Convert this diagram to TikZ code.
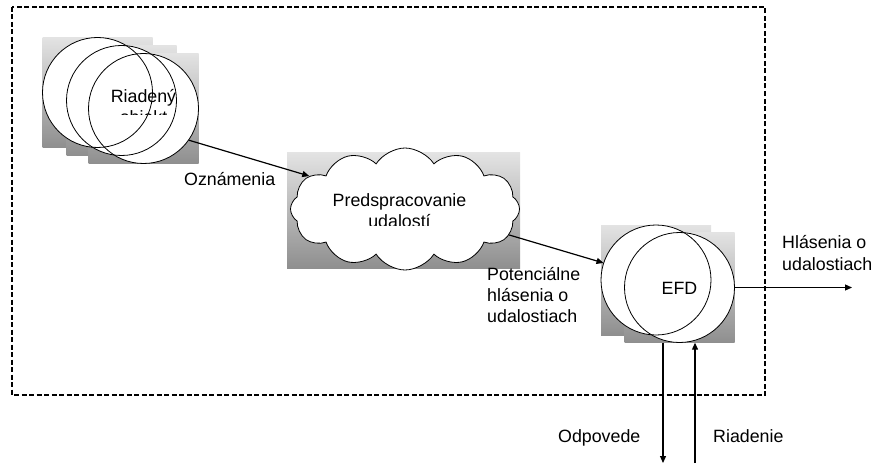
\documentclass[tikz,border=0pt]{standalone}
\usepackage{fontspec}
\setmainfont{Liberation Sans}
\usetikzlibrary{shapes.symbols,arrows.meta}

\definecolor{shadetop}{gray}{0.89}
\definecolor{shadebot}{gray}{0.56}

% multi-line text whose baseline is that of its first line
\newcommand\stacktext[2]{\begin{tabular}[t]{@{}#1@{}}#2\end{tabular}}

\tikzset{
  backsq/.style={rectangle, minimum size=110pt, inner sep=0pt, draw=none,
                 top color=shadetop, bottom color=shadebot},
  whitedisc/.style={circle, minimum size=110pt, inner sep=0pt, fill=white},
  ring/.style={line width=0.8pt},
  flow/.style={line width=1.2pt, -{Triangle[length=7pt,width=6pt]}},
  lbl/.style={inner sep=0pt, anchor=base west},
  frame/.style={line width=1.3pt, dash pattern=on 5pt off 2.5pt},
}

\begin{document}
\begin{tikzpicture}[x=1pt, y=-1pt, font=\fontsize{17.8}{21}\selectfont]
\useasboundingbox (0,0) rectangle (874,465);

% shaded backgrounds
\node[backsq] (s1) at (97.5,92.5) {};
\node[backsq] (s2) at (121.5,100.5) {};
\node[backsq] (s3) at (143.5,108.5) {};
\node[backsq, minimum width=233pt, minimum height=115pt] (sc) at (403.5,210.5) {};
\node[backsq] (sa) at (656,280) {};
\node[backsq] (sb) at (679.5,287.5) {};

% white discs, then all outlines on top
\node[whitedisc] (c1) at (s1) {};
\node[whitedisc] (c2) at (s2) {};
\node[whitedisc] (c3) at (s3) {};
\node[whitedisc] (ea) at (sa) {};
\node[whitedisc] (eb) at (sb) {};
\foreach \c in {c1,c2,c3,ea,eb}
  \draw[ring] (\c.center) circle[radius=55];

% event pre-processing cloud
\node[cloud, cloud puffs=12, cloud puff arc=115, cloud ignores aspect,
      minimum width=229pt, minimum height=122pt, inner sep=0pt,
      draw, ring, fill=white] (cl) at (405,209) {};

% texts cut off by their boxes
\begin{scope}
  \clip (95,80) rectangle (195,115);
  \node[anchor=base, inner sep=0pt] (robj) at (143.5,103)
    {\stacktext{c}{Riadený\\objekt}};
\end{scope}
\begin{scope}
  \clip (320,180) rectangle (480,225);
  \node[anchor=base, inner sep=0pt] (ptxt) at (399.5,206)
    {\stacktext{c}{Predspracovanie\\udalostí}};
\end{scope}
\node[anchor=base, inner sep=0pt] (efd) at (679.5,294) {EFD};

% connectors
\draw[flow] (c3.-35) -- (cl.161);
\draw[flow] (cl.-14) -- (ea.162);
\coordinate (outpt) at (852,287.5);
\draw[flow] (eb.east) -- (outpt);
\coordinate (odpend) at (663,463);
\coordinate (riadbeg) at (695,463);
\draw[flow] (odpend |- sb.south) -- (odpend);
\draw[flow] (riadbeg) -- (riadbeg |- eb.south);

% system boundary
\draw[frame] (12,7) rectangle (765,395);

% labels
\node[lbl] (oz) at (184,185) {Oznámenia};
\node[lbl] (pot) at (487,280) {\stacktext{l}{Potenciálne\\hlásenia o\\udalostiach}};
\node[lbl] (hl) at (782,248) {\stacktext{l}{Hlásenia o\\[1pt]udalostiach}};
\node[lbl] (od) at (558,442) {Odpovede};
\node[lbl] (ri) at (713,442) {Riadenie};
\end{tikzpicture}
\end{document}
